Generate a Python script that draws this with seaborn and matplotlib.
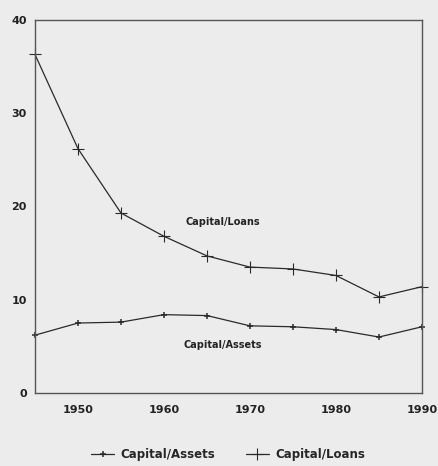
import seaborn as sns
import matplotlib.pyplot as plt
import pandas as pd

# Valeurs
years = [1945, 1950, 1955, 1960, 1965, 1970, 1975, 1980, 1985, 1990]
capital_assets = [6.2, 7.5, 7.6, 8.4, 8.3, 7.2, 7.1, 6.8, 6.0, 7.1]
capital_loans = [36.3, 26.2, 19.3, 16.8, 14.7, 13.5, 13.3, 12.6, 10.3, 11.4]

bg = '#ececec'
ink = '#2a2a2a'
sns.set_style('white')
plt.rcParams['font.family'] = ['DejaVu Sans']

fig = plt.figure(figsize=(4.39, 4.66), dpi=100, facecolor=bg)
ax = fig.add_axes([0.0797, 0.1567, 0.8815, 0.8004])
ax.set_facecolor(bg)

data = pd.DataFrame({'year': years, 'assets': capital_assets, 'loans': capital_loans})

sns.lineplot(x='year', y='assets', data=data, ax=ax, color=ink, lw=0.9,
             marker='+', markersize=5, markeredgewidth=1.1, markeredgecolor=ink,
             clip_on=False, label='Capital/Assets')
sns.lineplot(x='year', y='loans', data=data, ax=ax, color=ink, lw=0.9,
             marker='+', markersize=8, markeredgewidth=0.8, markeredgecolor=ink,
             clip_on=False, label='Capital/Loans')

ax.set_xlim(1945, 1990)
ax.set_ylim(0, 40)
ax.set_xticks(range(1945, 1991, 5))
ax.set_xticklabels(['' if y % 10 else str(y) for y in range(1945, 1991, 5)])
ax.set_yticks([0, 10, 20, 30, 40])
ax.tick_params(direction='in', length=4, width=0.8, color=ink,
               labelsize=8, labelcolor='#222222')
for lab in ax.get_xticklabels() + ax.get_yticklabels():
    lab.set_fontweight('bold')
ax.tick_params(axis='x', pad=9)
ax.tick_params(axis='y', pad=6)
for s in ax.spines.values():
    s.set_color('#555555')
    s.set_linewidth(1.0)
ax.set_xlabel('')
ax.set_ylabel('')

ax.text(1966.8, 18.3, 'Capital/Loans', fontsize=7, fontweight='bold',
        ha='center', va='center', color='#222222')
ax.text(1966.8, 5.1, 'Capital/Assets', fontsize=7, fontweight='bold',
        ha='center', va='center', color='#222222')

ax.legend(loc='center', bbox_to_anchor=(0.5, -0.165), ncol=2,
          frameon=False, prop={'weight': 'bold', 'size': 8.5},
          handlelength=1.9, handletextpad=0.6, columnspacing=2.6,
          borderpad=0.2)

fig.savefig('out.png', dpi=100, facecolor=bg)
